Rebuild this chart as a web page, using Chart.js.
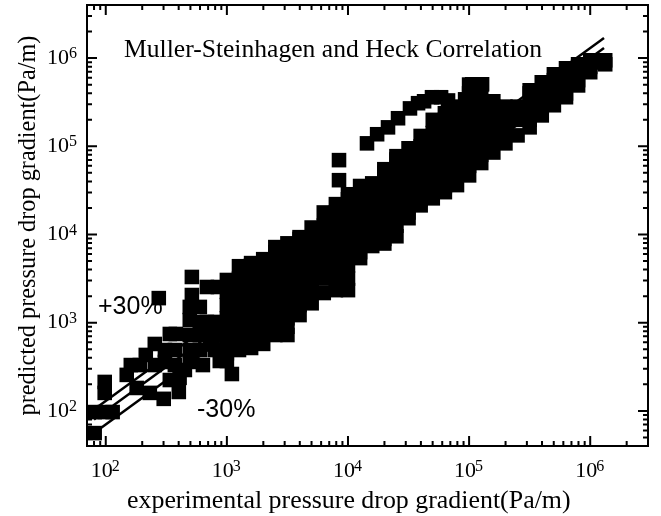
<!DOCTYPE html>
<html lang="en">
<head>
    <meta charset="UTF-8">
    <title>Muller-Steinhagen and Heck Correlation</title>
    <style>
        body { margin: 0; background: #fff; }
    </style>
</head>
<body>

<script src="https://cdn.jsdelivr.net/npm/chart.js"></script>
<canvas id="mycanvas" width="661" height="516"></canvas>

<script>
    // experimental gradient of each column of squares in the dense band
    const bandExp = [1000, 1259, 1585, 1995, 2512, 3162, 3981, 5012, 6310, 7943,
        10000, 12590, 15850, 19950, 25120, 31620, 39810, 50120, 63100, 79430,
        100000, 125900, 158500, 199500, 251200, 316200, 398100, 501200, 631000, 794300,
        1000000, 1259000, 1330000];
    // predicted gradient of the squares in each of those columns
    const bandPred = [
        [368, 450, 562, 794, 1122, 1585, 2239, 3050],
        [490, 562, 794, 1122, 1585, 2239, 3162, 4370],
        [517, 640, 794, 1122, 1585, 2239, 3162, 4467, 4740],
        [575, 794, 1122, 1585, 2239, 3162, 4467, 5250],
        [725, 900, 1122, 1585, 2239, 3162, 4467, 6310, 7200],
        [725, 900, 1122, 1585, 2239, 3162, 4467, 6310, 7940],
        [1220, 1585, 2239, 3162, 4467, 6310, 8913, 9330],
        [1660, 2239, 3162, 4467, 6310, 8913, 12000],
        [2170, 3162, 4467, 6310, 8913, 12590, 17780],
        [2340, 3162, 4467, 6310, 8913, 12590, 17780, 22100],
        [2340, 3162, 4467, 6310, 8913, 12590, 17780, 25120, 28600],
        [5400, 6310, 8913, 12590, 17780, 25120, 35480],
        [7400, 8913, 12590, 17780, 25120, 35480, 38000],
        [7900, 8913, 12590, 17780, 25120, 35480, 50120, 55000],
        [9550, 12590, 17780, 25120, 35480, 50120, 70790, 77300],
        [15300, 17780, 25120, 35480, 50120, 70790, 95000],
        [21400, 25120, 35480, 50120, 70790, 100000, 131000],
        [25700, 35480, 50120, 70790, 100000, 141300, 199500],
        [30200, 35480, 50120, 70790, 100000, 141300, 199500, 237000],
        [36300, 50120, 70790, 100000, 141300, 199500, 281800],
        [46800, 60000, 85000, 100000, 141300, 199500, 281800, 398100, 501000],
        [64600, 80000, 100000, 141300, 199500, 281800, 398100, 501000],
        [85000, 110000, 141300, 199500, 281800, 324000],
        [108000, 141300, 199500, 281800],
        [133000, 199500, 281800],
        [164000, 199500, 281800, 398100, 432000],
        [224000, 281800, 398100, 532000],
        [292000, 398100, 562300, 655000],
        [360000, 398100, 562300, 767000],
        [490000, 562300, 794300, 851000],
        [692000, 794300, 944000],
        [891000, 944000],
        [851000, 944000]
    ];

    // scattered squares at the low end
    const lowExp = [81, 81, 98, 114, 98, 98, 149, 161, 191, 214, 254, 338, 379, 494, 514, 514, 274, 684,
        180, 231, 301, 401, 634, 874, 1100, 254, 308, 308, 372, 372, 338, 450, 494, 494, 494, 598, 598,
        598, 598, 684, 794, 794, 794, 843, 407, 494, 724, 724];
    const lowPred = [56, 97, 97, 97, 213, 160, 256, 331, 331, 431, 574, 745, 745, 1070, 2060, 3300, 1900, 2540,
        182, 160, 137, 164, 331, 368, 262, 331, 490, 359, 490, 331, 224, 291, 725, 490, 1510, 725, 490,
        1020, 1510, 1020, 725, 490, 1020, 2540, 237, 359, 589, 826];

    // upper branch and the outliers above the band
    const branchExp = [14350, 17400, 21400, 25900, 32500, 37900, 42500, 49400, 58700, 67000, 92700, 106000, 128000, 8430, 8430];
    const branchPred = [108000, 137000, 164000, 208000, 269000, 308000, 324000, 360000, 360000, 331000, 341000, 505000, 505000, 69700, 41300];

    // parity line and the +30% / -30% lines
    const lineExp = [80, 1300000];
    const upperPred = [104, 1690000];
    const parityPred = [80, 1300000];
    const lowerPred = [56, 910000];

    const xDecades = [100, 1000, 10000, 100000, 1000000];
    const yDecades = [100, 1000, 10000, 100000, 1000000];
    const xMinorTicks = [80, 90, 200, 300, 400, 500, 600, 700, 800, 900,
        2000, 3000, 4000, 5000, 6000, 7000, 8000, 9000,
        20000, 30000, 40000, 50000, 60000, 70000, 80000, 90000,
        200000, 300000, 400000, 500000, 600000, 700000, 800000, 900000,
        2000000];
    const yMinorTicks = [50, 60, 70, 80, 90, 200, 300, 400, 500, 600, 700, 800, 900,
        2000, 3000, 4000, 5000, 6000, 7000, 8000, 9000,
        20000, 30000, 40000, 50000, 60000, 70000, 80000, 90000,
        200000, 300000, 400000, 500000, 600000, 700000, 800000, 900000,
        2000000, 3000000];

    const serif = "'Liberation Serif', 'Times New Roman', serif";
    const sans = "'Liberation Sans', Arial, sans-serif";

    const points = [];
    bandExp.forEach((x, i) => bandPred[i].forEach(y => points.push({x: x, y: y})));
    lowExp.forEach((x, i) => points.push({x: x, y: lowPred[i]}));
    branchExp.forEach((x, i) => points.push({x: x, y: branchPred[i]}));

    function lineSet(values) {
        return {
            type: "scatter", showLine: true, borderColor: "#000", borderWidth: 2.5, pointRadius: 0,
            data: lineExp.map((x, i) => ({x: x, y: values[i]}))
        };
    }

    function exponent(v) {
        return String(Math.round(Math.log10(v)));
    }

    // ticks point inwards on all four sides, plus the frame, exponents and the notes
    const frame = {
        id: "frame",
        afterDraw(chart) {
            const c = chart.ctx, a = chart.chartArea, sx = chart.scales.x, sy = chart.scales.y;
            c.save();
            c.strokeStyle = "#000";
            c.lineWidth = 2;
            c.strokeRect(a.left, a.top, a.right - a.left, a.bottom - a.top);
            function xTick(v, len) {
                const p = sx.getPixelForValue(v);
                c.beginPath();
                c.moveTo(p, a.bottom); c.lineTo(p, a.bottom - len);
                c.moveTo(p, a.top); c.lineTo(p, a.top + len);
                c.stroke();
            }
            function yTick(v, len) {
                const p = sy.getPixelForValue(v);
                c.beginPath();
                c.moveTo(a.left, p); c.lineTo(a.left + len, p);
                c.moveTo(a.right, p); c.lineTo(a.right - len, p);
                c.stroke();
            }
            xDecades.forEach(v => xTick(v, 10));
            yDecades.forEach(v => yTick(v, 10));
            xMinorTicks.forEach(v => xTick(v, 5));
            yMinorTicks.forEach(v => yTick(v, 5));

            c.fillStyle = "#000";
            c.textBaseline = "alphabetic";
            c.textAlign = "left";
            c.font = "16px " + serif;
            xDecades.forEach(v => c.fillText(exponent(v), sx.getPixelForValue(v) + 6, 471));
            yDecades.forEach(v => c.fillText(exponent(v), 69, sy.getPixelForValue(v)));
            c.font = "25.6px " + serif;
            c.fillText("Muller-Steinhagen and Heck Correlation", 124, 57);
            c.font = "25.9px " + serif;
            c.fillText("experimental pressure drop gradient(Pa/m)", 127, 508);
            c.font = "25px " + sans;
            c.fillText("+30%", 98, 314);
            c.fillText("-30%", 197, 417);
            c.restore();
        }
    };

    new Chart(document.getElementById("mycanvas"), {
        type: "scatter",
        data: {
            datasets: [
                {data: points, pointStyle: "rect", pointRadius: 10.3, backgroundColor: "#000", borderWidth: 0},
                lineSet(upperPred),
                lineSet(parityPred),
                lineSet(lowerPred)
            ]
        },
        options: {
            responsive: false,
            animation: false,
            layout: {autoPadding: false, padding: {top: 5, right: 13, left: 0, bottom: 0}},
            plugins: {legend: {display: false}, tooltip: {enabled: false}},
            scales: {
                x: {
                    type: "logarithmic", min: 70, max: 3000000,
                    grid: {display: false},
                    border: {display: false},
                    afterBuildTicks: s => { s.ticks = xDecades.map(v => ({value: v})); },
                    afterFit: s => { s.height = 70; s.paddingLeft = 0; s.paddingRight = 0; },
                    ticks: {
                        color: "#000", font: {family: serif, size: 22}, padding: 4, labelOffset: -4, maxRotation: 0, autoSkip: false,
                        callback: () => "10"
                    }
                },
                y: {
                    type: "logarithmic", min: 40, max: 4000000,
                    grid: {display: false},
                    border: {display: false},
                    afterBuildTicks: s => { s.ticks = yDecades.map(v => ({value: v})); },
                    afterFit: s => { s.width = 87; s.paddingTop = 0; s.paddingBottom = 0; },
                    ticks: {
                        color: "#000", font: {family: serif, size: 22}, padding: 10, autoSkip: false,
                        callback: () => "10"
                    },
                    title: {display: true, text: "predicted pressure drop gradient(Pa/m)", color: "#000",
                        font: {family: serif, size: 24.3}, padding: {top: 14, bottom: 0}}
                }
            }
        },
        plugins: [frame]
    });
</script>
</body>
</html>
